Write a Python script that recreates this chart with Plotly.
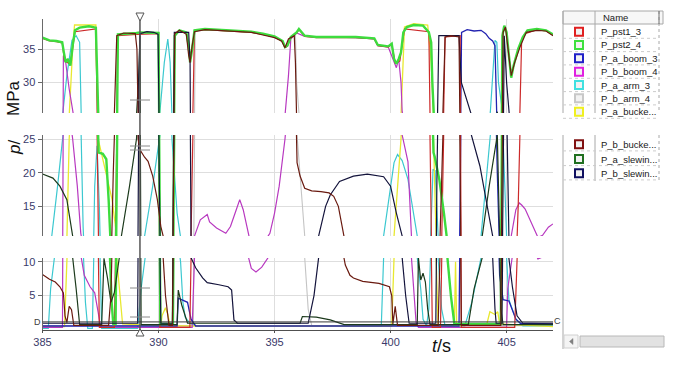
import plotly.graph_objects as go

W, H = 680, 373


def X(px):
    return px / W


def Y(py):
    return 1 - py / H


# ---------------- data (t in s, p in MPa) ----------------
T_RANGE = [385, 407]
X_TICKS = [385, 390, 395, 400, 405]
TOP_RANGE = [25.4, 39.5]
MID_RANGE = [10.6, 25.6]
BOT_RANGE = [-0.05, 10.55]
TOP_TICKS = [30, 35]
MID_TICKS = [15, 20, 25]
BOT_TICKS = [5, 10]
CURSOR_T = 389.2
CURSOR_P = 1.1

P_pst1_3 = [(385.0, 36.6), (385.3, 36.2), (385.6, 36.1), (385.85, 35.9), (385.95, 33.2), (386.2, 32.7),
            (386.4, 37.6), (387.3, 38.0), (387.36, 24.0), (387.45, 0.3), (388.1, 0.3), (388.25, 37.0),
            (389.05, 37.2), (390.0, 37.3), (390.06, 0.3), (391.35, 0.3), (391.45, 20.0), (391.55, 37.7),
            (392.0, 37.9), (392.5, 37.8), (393.0, 37.8), (393.5, 37.6), (394.0, 37.5), (394.5, 37.2),
            (395.0, 36.8), (395.35, 36.1), (395.45, 35.2), (395.55, 35.4), (395.7, 36.7), (395.95, 37.4),
            (396.05, 37.9), (396.3, 36.9), (396.8, 36.7), (397.5, 36.7), (398.5, 36.7), (399.3, 36.5),
            (399.45, 35.5), (399.9, 35.3), (400.05, 35.7), (400.2, 32.9), (400.4, 33.2), (400.6, 38.0),
            (401.65, 37.6), (401.8, 0.3), (402.15, 0.3), (402.35, 36.8), (403.0, 37.0), (403.05, 0.3),
            (405.35, 0.3), (405.5, 15.0), (405.65, 36.5), (405.8, 37.3), (406.3, 37.9), (406.7, 37.7),
            (407.0, 37.1)]

P_pst2_4 = [(385.0, 36.7), (385.3, 36.3), (385.6, 36.2), (385.85, 36.0), (385.92, 34.5), (386.0, 33.0),
            (386.1, 33.5), (386.2, 32.5), (386.3, 35.5), (386.4, 37.8), (386.6, 38.2), (387.0, 38.4),
            (387.3, 38.2), (387.36, 30.0), (387.42, 23.0), (387.6, 22.8), (387.75, 22.0), (387.85, 16.0),
            (387.92, 10.0), (387.98, 4.0), (388.05, 0.8), (388.15, 0.8), (388.25, 37.2), (389.05, 37.4),
            (389.2, 37.5), (390.0, 37.4), (390.04, 20.0), (390.08, 0.8), (390.62, 0.8), (390.7, 37.0),
            (390.9, 37.8), (391.2, 37.5), (391.3, 35.5), (391.36, 33.0), (391.45, 35.0), (391.55, 37.8),
            (392.0, 38.0), (392.5, 37.9), (393.0, 37.9), (393.5, 37.7), (394.0, 37.6), (394.5, 37.3),
            (395.0, 36.9), (395.35, 36.2), (395.45, 35.3), (395.55, 35.5), (395.7, 36.8), (395.95, 37.5),
            (396.05, 38.0), (396.3, 37.0), (396.8, 36.8), (397.5, 36.8), (398.5, 36.8), (399.3, 36.6),
            (399.45, 35.6), (399.9, 35.4), (400.05, 35.8), (400.15, 33.5), (400.25, 32.8), (400.35, 33.5),
            (400.45, 34.5), (400.55, 37.5), (400.7, 38.3), (401.0, 38.6), (401.4, 38.5), (401.65, 37.5),
            (401.75, 36.0), (401.8, 30.0), (401.85, 23.0), (401.9, 22.4), (402.1, 19.0), (402.3, 14.0),
            (402.45, 10.6), (402.6, 5.0), (402.75, 0.8), (404.75, 0.8), (404.82, 37.0), (404.9, 38.5),
            (405.0, 37.5), (405.1, 34.0), (405.2, 30.7), (405.3, 32.5), (405.5, 35.0), (405.7, 36.8),
            (405.9, 37.8), (406.3, 38.0), (406.7, 37.8), (407.0, 37.2)]

P_a_boom_3 = [(385.0, 0.5), (390.8, 0.5), (390.85, 4.6), (391.25, 4.0), (391.4, 1.5), (391.6, 0.5),
              (402.95, 0.5), (403.0, 20.0), (403.06, 37.5), (403.3, 37.9), (403.6, 37.7), (403.9, 37.8),
              (404.1, 37.3), (404.25, 36.6), (404.4, 36.2), (404.5, 35.5), (404.6, 20.0), (404.7, 8.0),
              (404.85, 4.4), (405.1, 4.2), (405.4, 1.5), (405.6, 0.9), (407.0, 0.8)]

P_b_boom_4 = [(385.0, 0.3), (385.86, 0.3), (385.9, 34.0), (386.0, 33.0), (386.15, 29.0), (386.3, 25.0),
              (386.5, 18.0), (386.65, 11.0), (386.8, 8.0), (387.05, 6.3), (387.25, 5.4), (387.4, 2.5),
              (387.5, 0.3), (391.45, 0.3), (391.55, 10.6), (391.8, 13.0), (392.1, 13.8), (392.2, 12.7),
              (392.5, 11.8), (392.9, 11.0), (393.1, 12.0), (393.35, 14.5), (393.5, 16.0), (393.65, 14.5),
              (393.85, 11.0), (394.0, 9.0), (394.2, 8.5), (394.45, 9.2), (394.8, 11.0), (395.0, 14.0),
              (395.2, 18.0), (395.45, 25.0), (395.6, 31.0), (395.7, 36.5), (395.95, 37.4), (396.3, 36.9),
              (398.5, 36.7), (399.3, 36.5), (399.45, 35.5), (399.9, 35.3), (400.15, 33.0), (400.25, 32.2),
              (400.35, 33.5), (400.45, 30.0), (400.5, 25.6), (400.75, 21.6), (400.9, 10.6), (401.0, 5.0),
              (401.1, 1.0), (401.2, 0.3), (405.0, 0.3), (405.05, 6.0), (405.2, 10.6), (405.4, 14.5),
              (405.55, 15.5), (405.65, 15.2), (405.8, 14.6), (406.0, 13.0), (406.2, 11.5), (406.35, 10.4),
              (406.55, 10.7), (406.8, 11.9), (407.0, 12.4)]

P_a_arm_3 = [(385.0, 0.15), (385.25, 0.15), (385.35, 6.0), (385.4, 10.6), (385.65, 18.0), (385.88, 25.6),
             (386.05, 31.0), (386.27, 36.3), (386.45, 37.0), (386.6, 36.0), (386.66, 25.0), (386.75, 12.0),
             (386.85, 4.0), (386.95, 0.15), (387.15, 0.15), (387.25, 18.0), (387.35, 24.0), (387.45, 15.0),
             (387.55, 0.15), (389.1, 0.15), (389.25, 6.0), (389.4, 10.6), (389.75, 18.0), (390.06, 25.6),
             (390.25, 33.0), (390.4, 36.5), (390.5, 33.0), (390.58, 25.0), (390.8, 14.0), (390.95, 10.0),
             (391.05, 4.0), (391.15, 1.8), (391.35, 0.9), (391.6, 0.5), (399.6, 0.5), (399.7, 10.6),
             (399.95, 17.0), (400.15, 21.5), (400.3, 22.7), (400.5, 21.8), (400.75, 19.0), (400.95, 15.0),
             (401.15, 10.6), (401.3, 6.0), (401.4, 1.5), (401.55, 0.5), (401.65, 3.0), (401.72, 10.6),
             (401.83, 20.5), (401.92, 20.3), (402.05, 10.6), (402.2, 3.0), (402.35, 0.5), (403.2, 0.5),
             (403.5, 4.0), (403.9, 10.6), (404.3, 25.6), (404.5, 36.3), (404.58, 36.0), (404.65, 30.0),
             (404.85, 25.0), (405.0, 10.6), (405.1, 4.4), (405.4, 1.5), (405.7, 0.5), (407.0, 0.5)]

P_b_arm_4 = [(385.0, 0.55), (391.5, 0.55), (391.58, 37.6), (392.0, 37.9), (393.0, 37.8), (394.0, 37.5),
             (395.0, 36.8), (395.35, 36.1), (395.45, 35.2), (395.55, 35.4), (395.7, 36.7), (395.9, 37.3),
             (395.95, 30.0), (395.97, 25.6), (396.3, 10.6), (396.45, 3.0), (396.6, 0.6), (407.0, 0.55)]

P_a_bucket = [(385.0, 0.4), (385.95, 0.4), (386.05, 10.0), (386.15, 25.0), (386.3, 35.0), (386.38, 38.6),
              (387.3, 38.6), (387.34, 30.0), (387.4, 25.0), (387.6, 22.0), (388.0, 16.0), (388.2, 10.5),
              (388.45, 0.8), (390.1, 0.5), (390.15, 2.0), (390.3, 3.2), (390.4, 2.2), (390.5, 0.5),
              (400.05, 0.5), (400.15, 10.6), (400.45, 25.0), (400.6, 38.3), (401.0, 38.8), (401.6, 38.6),
              (401.75, 33.0), (401.85, 25.0), (401.95, 12.0), (402.05, 0.5), (402.75, 0.5), (402.8, 10.0),
              (402.85, 0.5), (404.15, 0.8), (404.28, 2.6), (404.5, 2.2), (404.62, 2.6), (404.7, 0.8),
              (407.0, 0.4)]

P_b_bucket = [(385.0, 8.1), (385.3, 7.4), (385.55, 7.0), (385.75, 6.3), (385.9, 5.4), (385.97, 2.0),
              (386.05, 1.0), (386.15, 3.4), (386.25, 2.9), (386.35, 0.6), (387.85, 0.6), (387.95, 5.0),
              (388.05, 20.0), (388.2, 37.0), (388.5, 37.4), (389.0, 37.3), (389.07, 35.0), (389.12, 25.0),
              (389.2, 23.4), (389.4, 22.3), (389.55, 21.7), (389.75, 19.5), (389.95, 16.0), (390.1, 12.0),
              (390.2, 10.6), (390.3, 5.0), (390.45, 0.6), (390.6, 0.6), (390.7, 37.3), (390.9, 37.8),
              (391.2, 37.2), (391.3, 34.0), (391.36, 33.0), (391.45, 35.5), (391.55, 37.6), (392.0, 37.9),
              (392.5, 37.8), (393.0, 37.8), (393.5, 37.6), (394.0, 37.5), (394.5, 37.1), (395.0, 36.7),
              (395.3, 36.2), (395.45, 35.2), (395.6, 36.5), (395.85, 37.0), (395.9, 33.0), (395.97, 21.5),
              (396.1, 19.5), (396.3, 17.7), (396.6, 17.3), (397.0, 17.2), (397.35, 17.0), (397.55, 16.5),
              (397.75, 15.0), (398.0, 10.6), (398.05, 9.5), (398.25, 8.0), (398.4, 7.6), (398.8, 7.1),
              (399.5, 6.8), (399.95, 6.3), (400.05, 5.0), (400.1, 0.8), (400.2, 3.4), (400.3, 0.6),
              (402.05, 0.6), (402.2, 20.0), (402.35, 36.8), (402.6, 37.0), (402.95, 36.8), (403.0, 20.0),
              (403.05, 0.6), (404.75, 0.6), (404.85, 37.5), (404.95, 38.3), (405.1, 34.0), (405.2, 31.0),
              (405.35, 33.0), (405.6, 35.5), (405.85, 37.5), (406.3, 37.8), (406.7, 37.7), (407.0, 37.0)]

P_a_slewing = [(385.0, 19.8), (385.45, 19.2), (385.75, 18.0), (386.05, 16.0), (386.3, 10.6), (386.45, 6.0),
               (386.6, 0.7), (387.55, 0.7), (387.65, 10.5), (387.8, 7.6), (387.95, 4.0), (388.1, 5.5),
               (388.4, 10.6), (388.75, 18.0), (389.05, 25.0), (389.15, 31.0), (389.2, 37.0), (389.25, 0.7),
               (390.8, 0.7), (390.85, 5.8), (391.0, 3.6), (391.25, 0.9), (396.1, 0.9), (396.2, 1.9),
               (396.8, 1.8), (397.4, 1.4), (398.0, 0.7), (401.15, 0.7), (401.2, 10.6), (401.3, 7.3),
               (401.4, 8.3), (401.5, 7.0), (401.6, 3.0), (401.7, 0.7), (403.35, 0.7), (403.6, 6.0),
               (403.95, 10.6), (404.25, 18.0), (404.6, 25.6), (404.68, 15.0), (404.75, 3.0), (404.85, 0.7),
               (407.0, 0.7)]

P_b_slewing = [(385.0, 0.9), (389.1, 0.9), (389.15, 30.0), (389.2, 37.3), (389.5, 37.6), (389.8, 37.5),
               (389.98, 37.2), (390.03, 20.0), (390.1, 0.9), (390.6, 0.9), (390.68, 37.5), (391.3, 37.5),
               (391.36, 33.0), (391.4, 10.6), (391.6, 9.1), (391.9, 7.6), (392.1, 6.9), (392.6, 6.6),
               (393.0, 6.3), (393.15, 5.8), (393.25, 1.4), (393.4, 0.9), (396.45, 0.9), (396.7, 5.0),
               (396.9, 10.6), (397.2, 15.0), (397.4, 16.7), (397.8, 18.7), (398.4, 19.5), (399.0, 19.8),
               (399.7, 19.4), (400.0, 18.0), (400.25, 14.0), (400.5, 10.6), (400.65, 5.0), (400.8, 0.9),
               (401.95, 0.9), (402.0, 20.0), (402.08, 37.0), (402.95, 37.0), (403.05, 30.0), (403.45, 26.0),
               (403.85, 21.0), (404.15, 15.0), (404.4, 10.6), (404.5, 3.0), (404.55, 0.9), (404.8, 0.9),
               (404.9, 37.0), (405.0, 30.0), (405.1, 10.5), (405.25, 6.3), (405.45, 2.0), (405.7, 0.9),
               (407.0, 0.9)]

SERIES_NAMES = ["P_pst1_3", "P_pst2_4", "P_a_boom_3", "P_b_boom_4", "P_a_arm_3", "P_b_arm_4",
                "P_a_bucke...", "P_b_bucke...", "P_a_slewin...", "P_b_slewin..."]
LEGEND_COLORS = ["#e02020", "#3ee03e", "#2020c8", "#e020e0", "#40e0e0", "#c8c8c8",
                 "#f0f020", "#801010", "#207020", "#101060"]

# draw order: (data, line colour, width)
DRAW = [
    (P_b_arm_4, "#c4c4c4", 1.1),
    (P_a_arm_3, "#3cc8d0", 1.2),
    (P_a_bucket, "#e8e830", 1.3),
    (P_b_boom_4, "#b838c0", 1.2),
    (P_a_boom_3, "#2222b0", 1.3),
    (P_pst1_3, "#cc2a2a", 1.2),
    (P_pst2_4, "#3ddc3d", 2.4),
    (P_a_slewing, "#1c3a1c", 1.2),
    (P_b_slewing, "#14143c", 1.2),
    (P_b_bucket, "#6a1a10", 1.2),
]

fig = go.Figure()
panels = [("x", "y"), ("x2", "y2"), ("x3", "y3")]
for data, col, wd in DRAW:
    t = [a for a, b in data]
    p = [b for a, b in data]
    for xa, ya in panels:
        fig.add_trace(go.Scatter(x=t, y=p, mode="lines", xaxis=xa, yaxis=ya,
                                 line=dict(color=col, width=wd), showlegend=False,
                                 hoverinfo="skip"))

XD = [X(42.5), X(553)]
tickfont = dict(family="Liberation Sans, Arial", size=11, color="#3a3a6a")
grid = "#dedede"
axline = "#6a6a6a"

common_x = dict(range=T_RANGE, domain=XD, tickvals=X_TICKS, showgrid=True, gridcolor=grid,
                zeroline=False, fixedrange=True, automargin=False)
layout = dict(
    xaxis=dict(**common_x, anchor="y", showticklabels=False, showline=False, ticks=""),
    xaxis2=dict(**common_x, anchor="y2", showticklabels=False, showline=False, ticks=""),
    xaxis3=dict(**common_x, anchor="y3", showticklabels=True, showline=True, linecolor="#505050",
                ticks="outside", ticklen=2, tickcolor="#505050", tickfont=tickfont),
)
for name, rng, dom, tv, xa in [("yaxis", TOP_RANGE, [Y(113), Y(19)], TOP_TICKS, "x"),
                               ("yaxis2", MID_RANGE, [Y(236), Y(135)], MID_TICKS, "x2"),
                               ("yaxis3", BOT_RANGE, [Y(329.7), Y(258)], BOT_TICKS, "x3")]:
    layout[name] = dict(range=rng, domain=dom, tickvals=tv, anchor=xa, showgrid=True, gridcolor=grid,
                        showline=True, linecolor=axline, ticks="outside", ticklen=4, tickcolor=axline,
                        tickfont=tickfont, zeroline=False, fixedrange=True, automargin=False)

shapes = []
# cursor (vertical)
shapes.append(dict(type="line", xref="x3", yref="paper", x0=CURSOR_T, x1=CURSOR_T, y0=Y(331), y1=Y(17),
                   line=dict(color="#555555", width=1.5)))
shapes.append(dict(type="path", xref="paper", yref="paper",
                   path=f"M {X(136)} {Y(13)} L {X(144)} {Y(13)} L {X(140)} {Y(21)} Z",
                   line=dict(color="#555555", width=1), fillcolor="white"))
shapes.append(dict(type="path", xref="paper", yref="paper",
                   path=f"M {X(136)} {Y(336)} L {X(144)} {Y(336)} L {X(140)} {Y(329)} Z",
                   line=dict(color="#555555", width=1), fillcolor="white"))
for yy in [100, 146, 150, 288, 317]:
    shapes.append(dict(type="line", xref="paper", yref="paper", x0=X(130), x1=X(150), y0=Y(yy), y1=Y(yy),
                       line=dict(color="#8a8a8a", width=1)))
# cursor (horizontal)
shapes.append(dict(type="line", xref="paper", yref="y3", x0=X(42.5), x1=X(553), y0=CURSOR_P, y1=CURSOR_P,
                   line=dict(color="#3a3a3a", width=1)))

# legend table
lg = "#a8a8a8"
L, C1, R = 563, 595, 659
for y0, y1 in [(11, 113), (135, 349)]:
    shapes.append(dict(type="line", xref="paper", yref="paper", x0=X(L), x1=X(L), y0=Y(y0), y1=Y(y1),
                       line=dict(color=lg, width=1)))
for y0, y1 in [(11, 113), (135, 181)]:
    shapes.append(dict(type="line", xref="paper", yref="paper", x0=X(C1), x1=X(C1), y0=Y(y0), y1=Y(y1),
                       line=dict(color=lg, width=1)))
    shapes.append(dict(type="line", xref="paper", yref="paper", x0=X(R), x1=X(R), y0=Y(y0), y1=Y(y1),
                       line=dict(color=lg, width=1, dash="dot")))
shapes.append(dict(type="line", xref="paper", yref="paper", x0=X(R), x1=X(R), y0=Y(11), y1=Y(24),
                   line=dict(color="#707070", width=1)))
shapes.append(dict(type="rect", xref="paper", yref="paper", x0=X(L), x1=X(663), y0=Y(24), y1=Y(11),
                   line=dict(color=lg, width=1), fillcolor="#f7f7f7", layer="below"))
TOP_ROWS = [31.7, 45, 58.3, 71.7, 85, 98.3, 111.7]
BOT_ROWS = [144.3, 159.0, 173.3]
ROW_Y = TOP_ROWS + BOT_ROWS
for k, yy in enumerate(ROW_Y):
    shapes.append(dict(type="line", xref="paper", yref="paper", x0=X(L), x1=X(R), y0=Y(yy + 6.6),
                       y1=Y(yy + 6.6), line=dict(color="#cccccc", width=1, dash="dot")))
    shapes.append(dict(type="rect", xref="paper", yref="paper", x0=X(575), x1=X(583), y0=Y(yy + 4),
                       y1=Y(yy - 4), line=dict(color=LEGEND_COLORS[k], width=2), fillcolor="#f2f2f2"))
# scrollbar
shapes.append(dict(type="rect", xref="paper", yref="paper", x0=X(564), x1=X(578), y0=Y(348), y1=Y(335),
                   line=dict(color="#d0d0d0", width=1), fillcolor="#f4f4f4"))
shapes.append(dict(type="rect", xref="paper", yref="paper", x0=X(580), x1=X(664), y0=Y(347), y1=Y(336),
                   line=dict(color="#b8b8b8", width=1), fillcolor="#e2e2e2"))
shapes.append(dict(type="path", xref="paper", yref="paper",
                   path=f"M {X(573)} {Y(338.5)} L {X(573)} {Y(344.5)} L {X(569.5)} {Y(341.5)} Z",
                   line=dict(color="#808080", width=0.5), fillcolor="#808080"))

ann = []
base = dict(xref="paper", yref="paper", showarrow=False, borderpad=0)
ctr = dict(xanchor="center", yanchor="middle")
lab = dict(family="Liberation Sans, Arial", size=9.5, color="#202020")
ann.append(dict(text="Name", x=X(615), y=Y(17.5), font=dict(family="Liberation Sans, Arial", size=9.5,
                                                              color="#202020"), **ctr, **base))
for k, yy in enumerate(ROW_Y):
    ann.append(dict(text=SERIES_NAMES[k], x=X(600), y=Y(yy), xanchor="left", yanchor="middle", font=lab,
                    **base))
ann.append(dict(text="MPa", x=X(14), y=Y(98), textangle=-90,
                font=dict(family="Liberation Sans, Arial", size=17, color="#111111"), **ctr, **base))
ann.append(dict(text="<i>p</i>/", x=X(14), y=Y(148), textangle=-90,
                font=dict(family="Liberation Sans, Arial", size=17, color="#111111"), **ctr, **base))
ann.append(dict(text="<i>t</i>/s", x=X(441), y=Y(346),
                font=dict(family="Liberation Sans, Arial", size=18, color="#111111"), **ctr, **base))
ann.append(dict(text="D", x=X(37), y=Y(322), font=dict(family="Liberation Sans, Arial", size=9,
                                                        color="#404040"), **ctr, **base))
ann.append(dict(text="C", x=X(557), y=Y(321), font=dict(family="Liberation Sans, Arial", size=9,
                                                         color="#404040"), **ctr, **base))

fig.update_layout(**layout)
fig.update_layout(width=W, height=H, margin=dict(l=0, r=0, t=0, b=0, pad=0, autoexpand=False),
                  paper_bgcolor="white", plot_bgcolor="white", showlegend=False, shapes=shapes,
                  annotations=ann)
fig.write_html("out.html", config={"displayModeBar": False})
